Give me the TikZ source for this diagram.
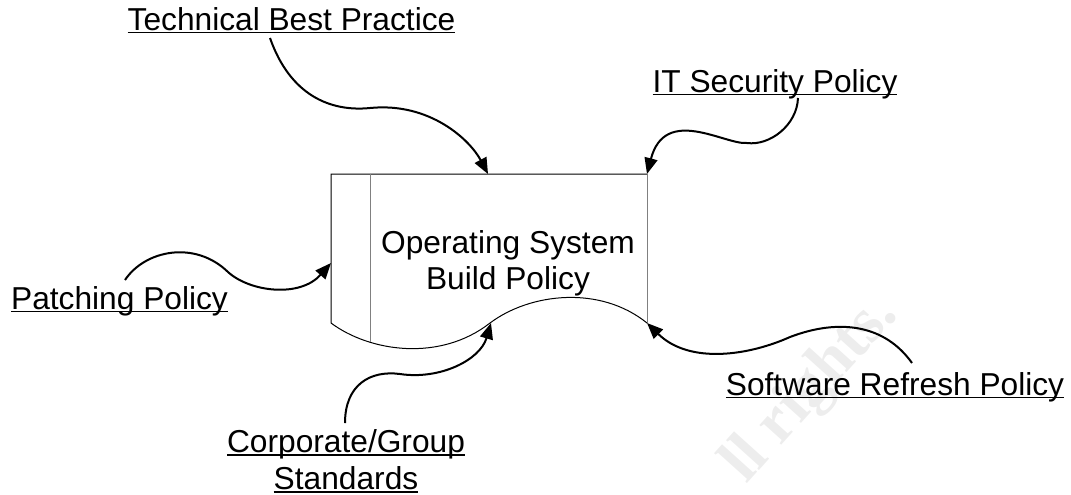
\documentclass[tikz,border=0pt]{standalone}
\usepackage{fontspec}
\setmainfont{Liberation Sans}
\newfontfamily\wmfont{Liberation Serif}
\usetikzlibrary{arrows.meta}
\usetikzlibrary{calc}

\newsavebox\ulbox
\newcommand{\ulab}[1]{\sbox\ulbox{#1}\rlap{\rule[-1.6pt]{\wd\ulbox}{0.75pt}}\usebox\ulbox}

\tikzset{
  srcnote/.style={inner sep=0pt, anchor=base, font=\fontsize{15.85}{18.5}\selectfont},
  feed/.style={line width=1pt, -{Triangle[length=8pt,width=6.5pt]}},
}

\begin{document}
\begin{tikzpicture}[x=0.5pt,y=-0.5pt]
  \useasboundingbox (0,0) rectangle (1071,494);
  % faint watermark
  \node (wm) [anchor=base east, inner sep=0pt, rotate=48, text=black!7,
    font=\wmfont\bfseries\fontsize{32}{32}\selectfont] at (899,315) {ll rights.};

  % the document shape
  \coordinate (dtl) at (331,174);
  \coordinate (dtr) at (647,174);
  \coordinate (dbl) at (331,323);
  \coordinate (dbr) at (647,323);
  \draw[line width=.5pt] (dtr) -- (dtl) -- (dbl)
    .. controls (370,352) and (440,362) .. (490,323)
    .. controls (530,293) and (600,285) .. (dbr);
  \draw[line width=.5pt, black!50] (dtr) -- (dbr);
  \draw[line width=.5pt, black!50] (370,174) -- (370,342);
  \node (osbp) [inner sep=0pt, anchor=north, align=center,
    font=\fontsize{15.85}{18}\selectfont] at (508,230)
    {Operating System\\Build Policy};

  % inputs
  \node (tbp) [srcnote] at (291.5,30) {\ulab{Technical Best Practice}};
  \node (itsp) [srcnote] at (775,92) {\ulab{IT Security Policy}};
  \node (pp) [srcnote] at (119.5,309) {\ulab{Patching Policy}};
  \node (srp) [srcnote] at (895,395) {\ulab{Software Refresh Policy}};
  \node (cgs) [srcnote, anchor=north, align=center] at (346,429)
    {\ulab{Corporate/Group}\\\ulab{Standards}};

  \coordinate (tbpin) at (488,174);
  \coordinate (ppin) at (331,263);
  \coordinate (cgsin) at (491,323);

  \draw[feed] ($(tbp.base)+(-21.5,8)$)
    .. controls (290,95) and (330,112) .. (370,108)
    .. controls (430,102) and (470,140) .. (tbpin);
  \draw[feed] ($(itsp.base)+(23,6)$)
    .. controls (797,125) and (770,146) .. (747,143)
    .. controls (725,145) and (665,105) .. (dtr);
  \draw[feed] ($(pp.base)+(5.5,-29)$)
    .. controls (145,250) and (195,240) .. (228,272)
    .. controls (250,292) and (300,298) .. (ppin);
  \draw[feed] ($(cgs.north)+(-1,-6)$)
    .. controls (345,385) and (370,370) .. (400,374)
    .. controls (440,380) and (480,360) .. (cgsin);
  \draw[feed] ($(srp.base)+(17,-32)$)
    .. controls (885,325) and (840,318) .. (790,337)
    .. controls (750,355) and (690,365) .. (dbr);
\end{tikzpicture}
\end{document}
